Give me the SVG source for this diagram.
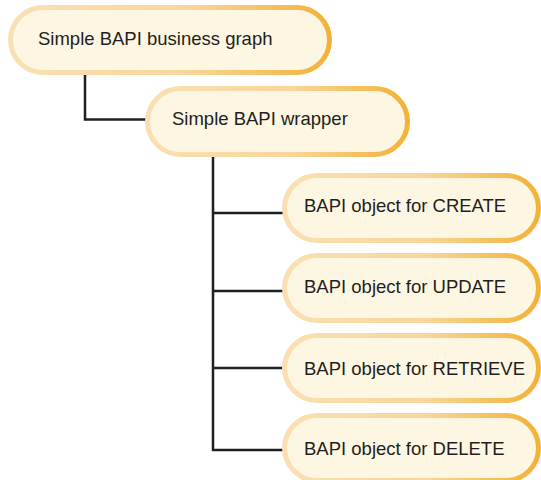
<svg xmlns="http://www.w3.org/2000/svg" width="541" height="480" viewBox="0 0 541 480">
  <defs>
    <linearGradient id="rim" x1="0" y1="0" x2="1" y2="0">
      <stop offset="0" stop-color="#f9e0b3"/>
      <stop offset="0.55" stop-color="#f8d69b"/>
      <stop offset="1" stop-color="#f3b238"/>
    </linearGradient>
  </defs>
  <style>
    .pill { fill: #fdf6e3; stroke: url(#rim); stroke-width: 5; }
    .label { font-family: "Liberation Sans", Arial, sans-serif; font-size: 18.5px; fill: #231f20; }
    .wire { fill: none; stroke: #231f20; stroke-width: 2.5; }
  </style>

  <g id="connectors">
    <polyline class="wire" points="85,75 85,119.5 148,119.5"/>
    <polyline class="wire" points="213,157 213,450 284,450"/>
    <line class="wire" x1="213" y1="213" x2="284" y2="213"/>
    <line class="wire" x1="213" y1="291" x2="284" y2="291"/>
    <line class="wire" x1="213" y1="368" x2="284" y2="368"/>
  </g>

  <g id="business-graph">
    <rect class="pill" x="10.5" y="7.5" width="319" height="65" rx="32.5"/>
    <text class="label" x="38" y="45">Simple BAPI business graph</text>
  </g>

  <g id="wrapper">
    <rect class="pill" x="147.5" y="88.5" width="260" height="66" rx="33"/>
    <text class="label" x="172" y="125">Simple BAPI wrapper</text>
  </g>

  <g id="create">
    <rect class="pill" x="284.5" y="175.5" width="254" height="65" rx="32.5"/>
    <text class="label" x="304" y="212">BAPI object for CREATE</text>
  </g>

  <g id="update">
    <rect class="pill" x="284.5" y="255.5" width="254" height="65" rx="32.5"/>
    <text class="label" x="304" y="293">BAPI object for UPDATE</text>
  </g>

  <g id="retrieve">
    <rect class="pill" x="284.5" y="335.5" width="254" height="65" rx="32.5"/>
    <text class="label" x="304" y="375">BAPI object for RETRIEVE</text>
  </g>

  <g id="delete">
    <rect class="pill" x="284.5" y="415.5" width="254" height="65" rx="32.5"/>
    <text class="label" x="304" y="455">BAPI object for DELETE</text>
  </g>
</svg>
